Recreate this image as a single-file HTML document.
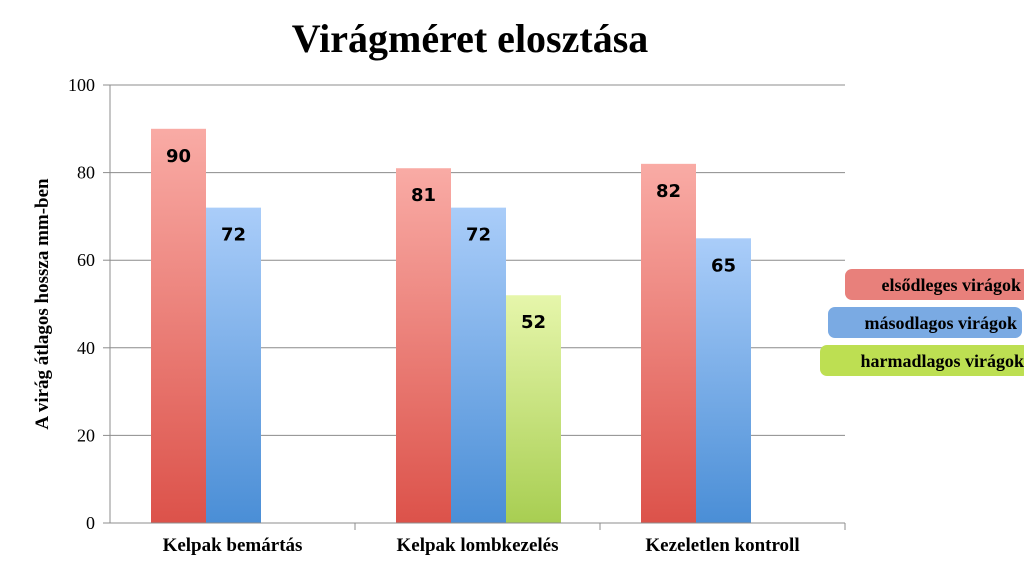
<!DOCTYPE html>
<html><head><meta charset="utf-8"><style>
body{margin:0;background:#fff;}
svg{display:block;font-family:"Liberation Serif",serif;}
</style></head><body>
<svg id="c" width="1024" height="571" xmlns="http://www.w3.org/2000/svg">
<defs>
<linearGradient id="gr" x1="0" y1="0" x2="0" y2="1"><stop offset="0" stop-color="#f9aba5"/><stop offset="1" stop-color="#dc524a"/></linearGradient>
<linearGradient id="gb" x1="0" y1="0" x2="0" y2="1"><stop offset="0" stop-color="#aacdf9"/><stop offset="1" stop-color="#4a8ed6"/></linearGradient>
<linearGradient id="gg" x1="0" y1="0" x2="0" y2="1"><stop offset="0" stop-color="#e6f6ab"/><stop offset="1" stop-color="#a8ce52"/></linearGradient>
</defs>
<text x="470" y="52" text-anchor="middle" font-size="40" font-weight="bold">Virágméret elosztása</text>
<text transform="translate(48,304) rotate(-90)" text-anchor="middle" font-size="19" font-weight="bold">A virág átlagos hossza mm-ben</text>
<g id="grid"></g><g id="bars"></g><g id="axes"></g>
<g>
<rect x="845" y="269" width="185" height="31" rx="7" fill="#e8807b"/>
<text x="1021" y="291" text-anchor="end" font-size="18" font-weight="bold">elsődleges virágok</text>
<rect x="828" y="307" width="194" height="31" rx="7" fill="#7aaae3"/>
<text x="1017" y="329" text-anchor="end" font-size="18" font-weight="bold">másodlagos virágok</text>
<rect x="820" y="345" width="210" height="31" rx="7" fill="#bddf52"/>
<text x="1024" y="367" text-anchor="end" font-size="18" font-weight="bold">harmadlagos virágok</text>
</g>
</svg>
<script>
const categories=["Kelpak bemártás","Kelpak lombkezelés","Kezeletlen kontroll"];
const primary=[90,81,82];
const secondary=[72,72,65];
const tertiary=[null,52,null];
const yTicks=[0,20,40,60,80,100];
const NS="http://www.w3.org/2000/svg";
const x0=110,x1=845,y0=523,yTop=85;
const yS=v=>y0-(v/100)*(y0-yTop);
const gw=(x1-x0)/categories.length;
function mk(t,a,p){const e=document.createElementNS(NS,t);for(const k in a)e.setAttribute(k,a[k]);p.appendChild(e);return e;}
const grid=document.getElementById('grid'),bars=document.getElementById('bars'),axes=document.getElementById('axes');
yTicks.forEach(v=>{
 const y=yS(v);
 if(v>0){const l=mk('line',{x1:x0,x2:x1,y1:y,y2:y,stroke:'#8c8c8c','stroke-width':1},grid);
 
 }
 const tk=mk('line',{x1:x0-7,x2:x0,y1:y,y2:y,stroke:'#8c8c8c'},axes);
 
 
 const t=mk('text',{x:x0-15,y:y+6,'text-anchor':'end','font-size':18},axes);t.textContent=v;
 
 
});
const ya=mk('line',{x1:x0,x2:x0,y1:yTop,y2:y0,stroke:'#8c8c8c'},axes);


const xa=mk('line',{x1:x0,x2:x1,y1:y0,y2:y0,stroke:'#8c8c8c'},axes);


const series=[[primary,'url(#gr)','primary'],[secondary,'url(#gb)','secondary'],[tertiary,'url(#gg)','tertiary']];
const bw=55;
categories.forEach((c,i)=>{
 const gx=x0+i*gw;
 const tk=mk('line',{x1:gx+gw,x2:gx+gw,y1:y0,y2:y0+7,stroke:'#8c8c8c'},axes);
 
 
 series.forEach((s,j)=>{
  const v=s[0][i]; if(v==null) return;
  const bx=gx+41+j*bw, by=yS(v);
  const r=mk('rect',{x:bx,y:by,width:bw,height:y0-by,fill:s[1]},bars);
  
  
  const t=mk('text',{x:bx+bw/2,y:by+33,'text-anchor':'middle','font-size':18,'font-weight':'bold','font-family':'"DejaVu Sans",sans-serif'},bars);
  t.textContent=v;
  
  
 });
 const t=mk('text',{x:gx+gw/2,y:551,'text-anchor':'middle','font-size':19,'font-weight':'bold'},axes);
 t.textContent=c;
 
 
});
</script>
</body></html>
